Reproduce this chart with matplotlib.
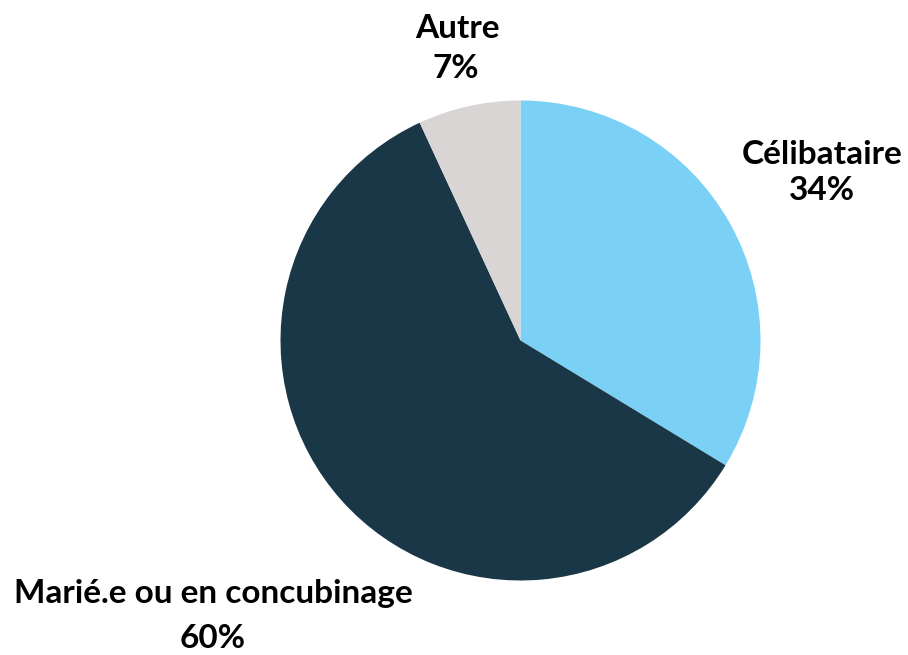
import matplotlib
matplotlib.use("Agg")
import matplotlib.pyplot as plt

categories = ["Célibataire", "Marié.e ou en concubinage", "Autre"]
values = [33.7, 59.4, 6.9]
pct_labels = ["34%", "60%", "7%"]
colors = ["#7AD1F5", "#1A3748", "#D9D5D5"]

W, H = 908, 655
fig = plt.figure(figsize=(W / 100, H / 100), dpi=100)
ax = fig.add_axes([0, 0, 1, 1])

ax.pie(values, colors=colors, startangle=90, counterclock=False,
       center=(520.5, H - 340.5), radius=240, frame=True,
       wedgeprops=dict(linewidth=0))
ax.set_xlim(0, W)
ax.set_ylim(0, H)
ax.axis("off")

font = dict(family=["Lato", "DejaVu Sans"], fontsize=24, fontweight="bold", color="black",
            ha="center", va="center")
label_pos = {
    "Célibataire": ((822, 154), (822, 190)),
    "Marié.e ou en concubinage": ((213, 594), (213, 638)),
    "Autre": ((457, 28), (456, 68)),
}
for cat, pct in zip(categories, pct_labels):
    (x1, y1), (x2, y2) = label_pos[cat]
    ax.text(x1, H - y1, cat, **font)
    ax.text(x2, H - y2, pct, **font)

fig.savefig("out.png", dpi=100)
